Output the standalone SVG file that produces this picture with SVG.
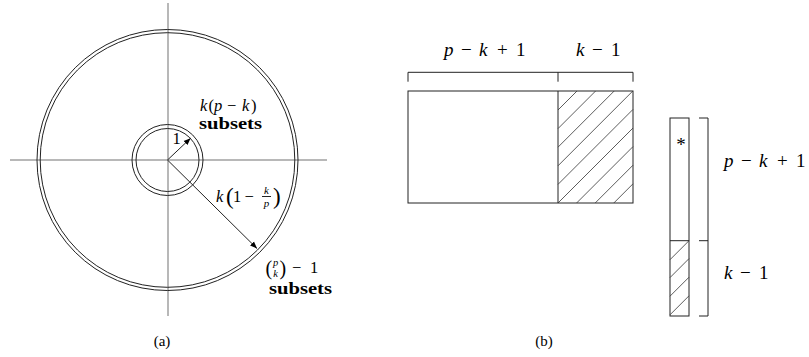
<svg xmlns="http://www.w3.org/2000/svg" width="809" height="357" viewBox="0 0 809 357" font-family="'Liberation Serif', 'Times New Roman', Times, serif">
<style>
  .axis { stroke: #a0a0a0; stroke-width: 1.5; fill: none; }
  .ring { stroke: #222; stroke-width: 1; fill: none; }
  .ln { stroke: #222; stroke-width: 1; fill: none; }
  .hatch { stroke: #333; stroke-width: 0.8; fill: none; }
  .m { font-size: 19px; }
  .ms { font-size: 16.5px; }
  .i { font-style: italic; }
  .b { font-size: 16px; font-weight: bold; }
  .cap { font-size: 15px; text-anchor: middle; }
</style>
<defs>
  <marker id="ah" viewBox="0 0 10 10" refX="10" refY="5" markerWidth="7" markerHeight="7" markerUnits="userSpaceOnUse" orient="auto">
    <path d="M0,1 L10,5 L0,9 z" fill="#000"/>
  </marker>
</defs>
<rect width="809" height="357" fill="#fff"/>

<g id="axes">
  <line class="axis" x1="168" y1="3" x2="168" y2="316"/>
  <line class="axis" x1="10" y1="160" x2="327" y2="160"/>
</g>
<g id="outer-circle">
  <circle class="ring" cx="167.5" cy="160" r="130.5"/>
  <circle class="ring" cx="167.5" cy="160" r="127.3"/>
</g>
<g id="inner-circle">
  <circle class="ring" cx="167.5" cy="160" r="35.5"/>
  <circle class="ring" cx="167.5" cy="160" r="31.5"/>
</g>
<g id="connectors">
  <line class="ln" x1="167.5" y1="160" x2="190.6" y2="138.2" marker-end="url(#ah)"/>
  <line class="ln" x1="167.5" y1="160" x2="257" y2="248.5" marker-end="url(#ah)"/>
</g>
<g id="label-1">
  <text class="ms" x="172.5" y="144">1</text>
</g>
<g id="label-inner">
  <text class="ms" y="110.5"><tspan class="i" x="200">k</tspan><tspan x="208.5">(</tspan><tspan class="i" x="214">p</tspan><tspan x="227">−</tspan><tspan class="i" x="242">k</tspan><tspan x="251">)</tspan></text>
  <text class="b" x="199" y="128.5" textLength="63" lengthAdjust="spacingAndGlyphs">subsets</text>
</g>
<g id="label-radius">
  <text class="ms"><tspan class="i" x="216" y="202">k</tspan><tspan x="226" y="204" font-size="23">(</tspan><tspan x="233" y="202">1</tspan><tspan x="244.5" y="202">−</tspan><tspan class="i" x="266.5" y="193.5" font-size="11" text-anchor="middle">k</tspan><tspan class="i" x="266.5" y="206.5" font-size="11" text-anchor="middle">p</tspan><tspan x="273" y="204" font-size="23">)</tspan></text>
  <line class="ln" x1="262" y1="196.5" x2="271" y2="196.5" stroke-width="0.8"/>
</g>
<g id="label-outer">
  <text class="ms"><tspan x="265.5" y="274.5" font-size="20">(</tspan><tspan class="i" x="275.5" y="265.5" font-size="10.5" text-anchor="middle">p</tspan><tspan class="i" x="275.5" y="276.5" font-size="10.5" text-anchor="middle">k</tspan><tspan x="279.5" y="274.5" font-size="20">)</tspan><tspan x="292" y="272.5">−</tspan><tspan x="310" y="272.5">1</tspan></text>
  <text class="b" x="269" y="293.5" textLength="63" lengthAdjust="spacingAndGlyphs">subsets</text>
</g>
<g id="caption-a">
  <text class="cap" x="162" y="346">(a)</text>
</g>

<g id="top-bracket">
  <path class="ln" d="M408,81.7 V72.3 H633 V81.7 M558,72.3 V81.7"/>
</g>
<g id="top-labels">
  <text class="m" y="56"><tspan class="i" x="444">p</tspan><tspan x="461">−</tspan><tspan class="i" x="479">k</tspan><tspan x="497">+</tspan><tspan x="516">1</tspan></text>
  <text class="m" y="56"><tspan class="i" x="576">k</tspan><tspan x="592">−</tspan><tspan x="611">1</tspan></text>
</g>
<g id="matrix">
  <rect class="ln" x="408" y="91" width="225" height="112"/>
  <line class="ln" x1="558" y1="91" x2="558" y2="203"/>
  <path class="hatch" d="M558,110 L577,91 M558,128.6 L595.6,91 M558,147.2 L614.2,91 M558,165.8 L632.8,91 M558,184.4 L633,109.4 M558,203 L633,128 M576.6,203 L633,146.6 M595.2,203 L633,165.2 M613.8,203 L633,183.8"/>
</g>
<g id="vector">
  <rect class="ln" x="670" y="118" width="19" height="198"/>
  <line class="ln" x1="670" y1="240.7" x2="689" y2="240.7"/>
  <path class="hatch" d="M670,259.7 L689,240.7 M670,277.6 L689,258.6 M670,296.2 L689,277.2 M670,314.8 L689,295.8"/>
  <text class="m" x="681" y="151" text-anchor="middle">*</text>
</g>
<g id="side-bracket">
  <path class="ln" d="M699,118 H708 V316 H699 M699,240.7 H708"/>
</g>
<g id="side-labels">
  <text class="m" y="167"><tspan class="i" x="724">p</tspan><tspan x="741">−</tspan><tspan class="i" x="759">k</tspan><tspan x="777">+</tspan><tspan x="796">1</tspan></text>
  <text class="m" y="279"><tspan class="i" x="724">k</tspan><tspan x="740">−</tspan><tspan x="759">1</tspan></text>
</g>
<g id="caption-b">
  <text class="cap" x="544" y="346">(b)</text>
</g>
</svg>
